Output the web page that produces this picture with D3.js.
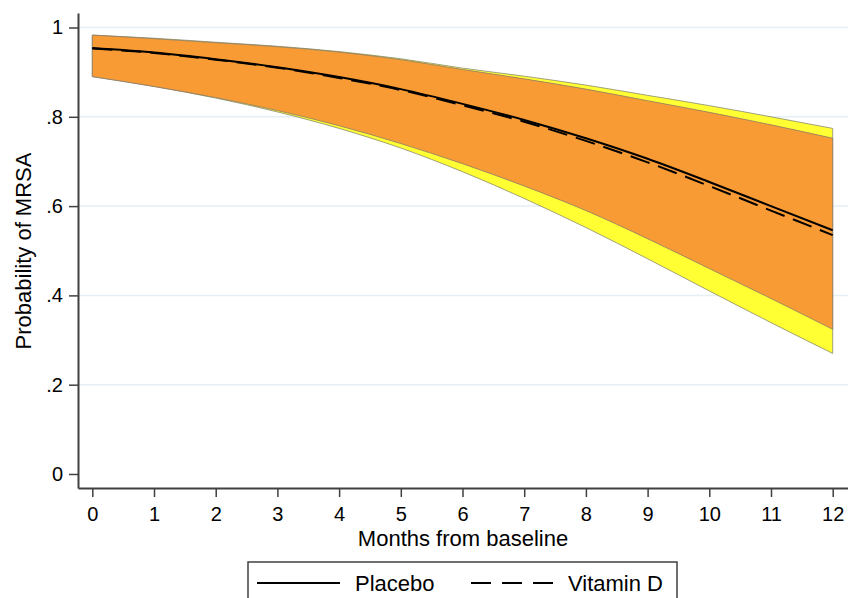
<!DOCTYPE html>
<html>
<head>
<meta charset="utf-8">
<script src="https://cdn.jsdelivr.net/npm/d3@7"></script>
<style>
	body { margin:0; background:#fff; }
	svg text { font-family:"Liberation Sans", Arial, sans-serif; fill:#000; }
</style>
</head>
<body>
<svg width="848" height="598"></svg>
<script>
// months from baseline
var months = [0,1,2,3,4,5,6,7,8,9,10,11,12];

// predicted probability of MRSA
var placebo  = [0.954,0.944,0.929,0.911,0.889,0.862,0.829,0.793,0.752,0.706,0.654,0.600,0.546];
var vitaminD = [0.953,0.943,0.928,0.910,0.887,0.860,0.826,0.789,0.746,0.698,0.645,0.590,0.535];

// confidence bands
var placeboLow  = [0.890,0.868,0.843,0.814,0.780,0.740,0.695,0.645,0.590,0.527,0.460,0.393,0.324];
var placeboHigh = [0.983,0.975,0.966,0.957,0.945,0.928,0.906,0.885,0.862,0.836,0.810,0.782,0.752];
var vitaminDLow  = [0.890,0.868,0.842,0.811,0.774,0.730,0.677,0.617,0.552,0.482,0.410,0.339,0.270];
var vitaminDHigh = [0.983,0.976,0.967,0.958,0.946,0.930,0.909,0.891,0.871,0.848,0.825,0.800,0.774];

var yTicks = [0,0.2,0.4,0.6,0.8,1];
var yTickLabels = ["0",".2",".4",".6",".8","1"];
var legendLabels = ["Placebo","Vitamin D"];

window.mrsa = window.mrsa || {};
window.mrsa.chart = {
	svg : {},
	load:function(){
		this.svg = d3.select("svg");

		this.x = d3.scaleLinear().domain([-0.232,12.248]).range([78,848]);
		this.y = d3.scaleLinear().domain([-0.0314,1.0325]).range([488,13]);

		this.grid();
		this.bands();
		this.lines();
		this.axes();
		this.legend();
	},
	grid:function(){
		var y = this.y;
		this.svg.append('g')
			.attr('class','grid')
			.selectAll('line')
			.data(yTicks.filter(function(d){return d > 0}))
			.enter().append('line')
			.attr('x1',78).attr('x2',848)
			.attr('y1',function(d){return y(d)})
			.attr('y2',function(d){return y(d)})
			.attr('stroke','#e6eff3')
			.attr('stroke-width',1.5);
	},
	bands:function(){
		var x = this.x, y = this.y;
		var area = function(low,high){
			return d3.area()
				.x(function(d,i){return x(months[i])})
				.y0(function(d,i){return y(low[i])})
				.y1(function(d,i){return y(high[i])})
				.curve(d3.curveMonotoneX)(months);
		};
		this.svg.append('path')
			.attr('d',area(vitaminDLow,vitaminDHigh))
			.attr('fill','#ffff33')
			.attr('stroke','#8a8a70')
			.attr('stroke-width',0.8);
		this.svg.append('path')
			.attr('d',area(placeboLow,placeboHigh))
			.attr('fill','#f99b34')
			.attr('stroke','#8a7a6a')
			.attr('stroke-width',0.8);
	},
	lines:function(){
		var x = this.x, y = this.y;
		var line = function(vals){
			return d3.line()
				.x(function(d,i){return x(months[i])})
				.y(function(d,i){return y(vals[i])})
				.curve(d3.curveMonotoneX)(months);
		};
		this.svg.append('path')
			.attr('d',line(placebo))
			.attr('fill','none')
			.attr('stroke','#000')
			.attr('stroke-width',2);
		this.svg.append('path')
			.attr('d',line(vitaminD))
			.attr('fill','none')
			.attr('stroke','#000')
			.attr('stroke-width',2)
			.attr('stroke-dasharray','20,9');
	},
	axes:function(){
		var yAxis = d3.axisLeft(this.y)
			.tickValues(yTicks)
			.tickFormat(function(d,i){return yTickLabels[i]})
			.tickSize(9)
			.tickPadding(6)
			.tickSizeOuter(0);
		var gy = this.svg.append('g')
			.attr('transform','translate(78,0)')
			.call(yAxis);

		var xAxis = d3.axisBottom(this.x)
			.tickValues(months)
			.tickFormat(d3.format('d'))
			.tickSize(9)
			.tickPadding(10)
			.tickSizeOuter(0);
		var gx = this.svg.append('g')
			.attr('transform','translate(0,488)')
			.call(xAxis);

		[gx,gy].forEach(function(g){
			g.select('.domain').attr('stroke','#404040').attr('stroke-width',2);
			g.selectAll('.tick line').attr('stroke','#404040').attr('stroke-width',1.5);
			g.selectAll('.tick text').attr('font-size',20).attr('font-family','"Liberation Sans", Arial, sans-serif').attr('fill','#000');
		});

		this.svg.append('text')
			.attr('class','label xtitle')
			.attr('x',463)
			.attr('y',546)
			.attr('text-anchor','middle')
			.attr('font-size',22)
			.text('Months from baseline');

		this.svg.append('text')
			.attr('class','label ytitle')
			.attr('transform','translate(31,251) rotate(-90)')
			.attr('text-anchor','middle')
			.attr('font-size',22)
			.text('Probability of MRSA');
	},
	legend:function(){
		var g = this.svg.append('g').attr('class','legend');
		g.append('rect')
			.attr('x',248).attr('y',562)
			.attr('width',429).attr('height',60)
			.attr('fill','#fff')
			.attr('stroke','#404040')
			.attr('stroke-width',1.5);
		var items = [
			{x1:257,x2:340,tx:355,dash:null},
			{x1:471,x2:553,tx:568,dash:'20,11'}
		];
		items.forEach(function(d,i){
			g.append('line')
				.attr('x1',d.x1).attr('x2',d.x2)
				.attr('y1',583).attr('y2',583)
				.attr('stroke','#000')
				.attr('stroke-width',2)
				.attr('stroke-dasharray',d.dash);
			g.append('text')
				.attr('x',d.tx)
				.attr('y',591)
				.attr('font-size',22)
				.text(legendLabels[i]);
		});
	}
}

window.mrsa.chart.load();
</script>
</body>
</html>
